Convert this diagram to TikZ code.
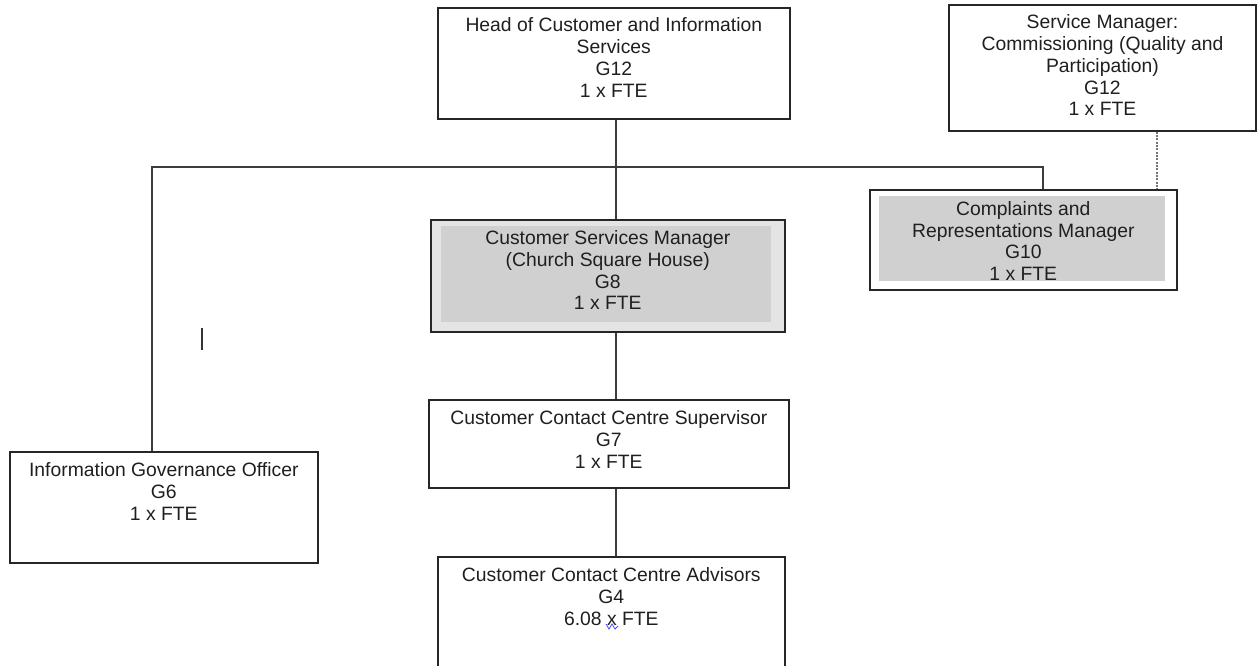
\documentclass[tikz,border=0pt]{standalone}
\usepackage{fontspec}
\setmainfont{Liberation Sans}
\usetikzlibrary{positioning}

\definecolor{band}{RGB}{228,228,228}
\definecolor{shade}{RGB}{208,208,208}
\definecolor{wire}{RGB}{60,60,60}

\tikzset{
	post/.style={draw=black!85, line width=1.2pt, anchor=north west, inner sep=0pt},
	fillbox/.style={fill=shade, anchor=north west, inner sep=0pt},
	title/.style={align=center, inner sep=0pt, text=black!88,
		font=\fontsize{14.5pt}{16.3pt}\selectfont},
	link/.style={draw=wire, line width=1pt},
	dotline/.style={draw=black!55, line width=1pt, dash pattern=on 1.5pt off 1pt}
}

\begin{document}
\begin{tikzpicture}[x=0.75pt,y=0.75pt,yscale=-1,xscale=1]
	\clip (0,0) rectangle (1257,665);

	% boxes
	\node[post, minimum width=264pt, minimum height=83.25pt] (head) at (437,7) {};
	\node[post, minimum width=230.5pt, minimum height=94.5pt] (svc) at (948,4) {};
	\node[post, minimum width=230.25pt, minimum height=75pt] (cmp) at (869,189) {};
	\node[fillbox, minimum width=214.5pt, minimum height=63.75pt] (cmpin) at (879,196) {};
	\node[post, fill=band, minimum width=265.5pt, minimum height=84pt] (csm) at (430,219) {};
	\node[fillbox, minimum width=247.5pt, minimum height=72pt] (csmin) at (441,226) {};
	\node[post, minimum width=270pt, minimum height=66pt] (sup) at (428,399) {};
	\node[post, minimum width=231pt, minimum height=83.25pt] (igo) at (9,451) {};
	\node[post, minimum width=260.25pt, minimum height=90pt] (adv) at (437,556) {};

	% titles
	\node[title, below=8pt of head.north] (headt) {Head of Customer and Information\\Services\\G12\\1 x FTE};
	\node[title, below=8pt of svc.north] (svct) {Service Manager:\\Commissioning (Quality and\\Participation)\\G12\\1 x FTE};
	\begin{scope}
		\clip (cmpin.north west) rectangle (cmpin.south east);
		\node[title, below=9pt of cmp.north] (cmpt) {Complaints and\\Representations Manager\\G10\\1 x FTE};
	\end{scope}
	\node[title, below=8.5pt of csm.north] (csmt) {Customer Services Manager\\(Church Square House)\\G8\\1 x FTE};
	\node[title, below=8.5pt of sup.north] (supt) {Customer Contact Centre Supervisor\\G7\\1 x FTE};
	\node[title, below=8.5pt of igo.north] (igot) {Information Governance Officer\\G6\\1 x FTE};
	\node[title, below=8.5pt of adv.north] (advt) {Customer Contact Centre Advisors\\G4\\6.08 x FTE};

	% connectors
	\coordinate (spine) at (616,0);
	\coordinate (busL) at (152,167);
	\coordinate (busR) at (1043,167);
	\coordinate (dots) at (1157,0);
	\draw[link] (spine |- head.south) -- (spine |- csm.north);
	\draw[link] (busL |- igo.north) -- (busL) -- (busR) -- (busR |- cmp.north);
	\draw[link] (spine |- csm.south) -- (spine |- sup.north);
	\draw[link] (spine |- sup.south) -- (spine |- adv.north);
	\draw[dotline] (dots |- svc.south) -- (dots |- cmp.north);

	% stray cursor mark and spelling squiggle
	\draw[line width=1pt, black!80] (202,328) -- (202,350);
	\draw[blue!70, line width=0.6pt] (606,624) -- (609,629) -- (612,624) -- (615,629) -- (618,626);
\end{tikzpicture}
\end{document}
